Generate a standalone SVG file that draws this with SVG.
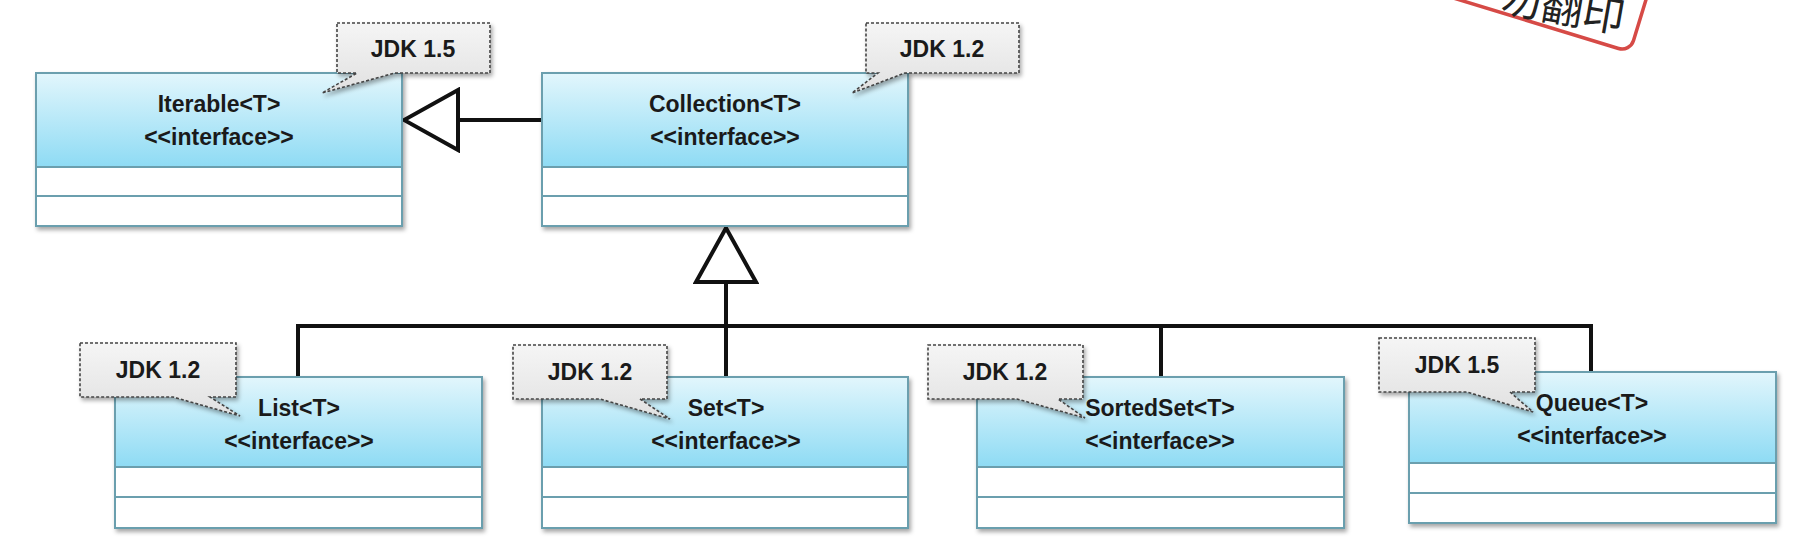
<svg xmlns="http://www.w3.org/2000/svg" width="1810" height="544" viewBox="0 0 1810 544">
<defs>
<linearGradient id="hdr" x1="0" y1="0" x2="0" y2="1">
<stop offset="0" stop-color="#e2f6fc"/>
<stop offset="1" stop-color="#8edbf4"/>
</linearGradient>
<linearGradient id="note" x1="0" y1="0" x2="0" y2="1">
<stop offset="0" stop-color="#f5f5f5"/>
<stop offset="1" stop-color="#e1e1e1"/>
</linearGradient>
<filter id="sh" x="-5%" y="-5%" width="115%" height="125%">
<feDropShadow dx="2" dy="3" stdDeviation="2" flood-color="#000" flood-opacity="0.35"/>
</filter>
<marker id="tri" markerUnits="userSpaceOnUse" viewBox="0 0 60 66" refX="57" refY="33" markerWidth="60" markerHeight="66" orient="auto">
<path d="M3,3 L57,33 L3,63 Z" fill="#fff" stroke="#111" stroke-width="4"/>
</marker>
</defs>
<style>
.box{fill:#fff;stroke:#6b9fae;stroke-width:2}
.hd{fill:url(#hdr);stroke:#6b9fae;stroke-width:2}
.dv{stroke:#6b9fae;stroke-width:2}
.t{font-family:"Liberation Sans",Arial,sans-serif;font-weight:700;font-size:23px;fill:#1a1a1a;text-anchor:middle}
.note{fill:url(#note);stroke:#444;stroke-width:1.6;stroke-dasharray:3 2;filter:url(#sh)}
.ln{fill:none;stroke:#111;stroke-width:4}
</style>
<rect width="1810" height="544" fill="#fff"/>

<g id="stamp">
<g transform="translate(1630,52) rotate(17)">
<rect x="-340" y="-170" width="340" height="170" rx="12" fill="#fff" stroke="#d64a46" stroke-width="3.5"/>
</g>
<text transform="translate(1622,33) rotate(10)" text-anchor="end" font-family="Noto Sans CJK SC, sans-serif" font-size="42" fill="#222">勿翻印</text>
</g>

<g id="connectors">
<path class="ln" d="M542,120 H404" marker-end="url(#tri)"/>
<path class="ln" d="M726,377 V228" marker-end="url(#tri)"/>
<path class="ln" d="M298,377 V326 H1591 V372"/>
<path class="ln" d="M1161,326 V377"/>
</g>

<g id="iterable">
<rect class="box" x="36" y="73" width="366" height="153" filter="url(#sh)"/>
<rect class="hd" x="36" y="73" width="366" height="94"/>
<line class="dv" x1="36" y1="196" x2="402" y2="196"/>
<text class="t" x="219" y="112">Iterable&lt;T&gt;</text>
<text class="t" x="219" y="145">&lt;&lt;interface&gt;&gt;</text>
</g>

<g id="collection">
<rect class="box" x="542" y="73" width="366" height="153" filter="url(#sh)"/>
<rect class="hd" x="542" y="73" width="366" height="94"/>
<line class="dv" x1="542" y1="196" x2="908" y2="196"/>
<text class="t" x="725" y="112">Collection&lt;T&gt;</text>
<text class="t" x="725" y="145">&lt;&lt;interface&gt;&gt;</text>
</g>

<g id="list">
<rect class="box" x="115" y="377" width="367" height="151" filter="url(#sh)"/>
<rect class="hd" x="115" y="377" width="367" height="90"/>
<line class="dv" x1="115" y1="497" x2="482" y2="497"/>
<text class="t" x="299" y="416">List&lt;T&gt;</text>
<text class="t" x="299" y="449">&lt;&lt;interface&gt;&gt;</text>
</g>

<g id="set">
<rect class="box" x="542" y="377" width="366" height="151" filter="url(#sh)"/>
<rect class="hd" x="542" y="377" width="366" height="90"/>
<line class="dv" x1="542" y1="497" x2="908" y2="497"/>
<text class="t" x="726" y="416">Set&lt;T&gt;</text>
<text class="t" x="726" y="449">&lt;&lt;interface&gt;&gt;</text>
</g>

<g id="sortedset">
<rect class="box" x="977" y="377" width="367" height="151" filter="url(#sh)"/>
<rect class="hd" x="977" y="377" width="367" height="90"/>
<line class="dv" x1="977" y1="497" x2="1344" y2="497"/>
<text class="t" x="1160" y="416">SortedSet&lt;T&gt;</text>
<text class="t" x="1160" y="449">&lt;&lt;interface&gt;&gt;</text>
</g>

<g id="queue">
<rect class="box" x="1409" y="372" width="367" height="151" filter="url(#sh)"/>
<rect class="hd" x="1409" y="372" width="367" height="91"/>
<line class="dv" x1="1409" y1="493" x2="1776" y2="493"/>
<text class="t" x="1592" y="411">Queue&lt;T&gt;</text>
<text class="t" x="1592" y="444">&lt;&lt;interface&gt;&gt;</text>
</g>

<g id="note-iterable">
<path class="note" d="M337,23 H490 V73 H395 L322,93 L357,73 H337 Z"/>
<text class="t" x="413" y="57">JDK 1.5</text>
</g>
<g id="note-collection">
<path class="note" d="M866,23 H1019 V73 H905 L852,93 L878,73 H866 Z"/>
<text class="t" x="942" y="57">JDK 1.2</text>
</g>
<g id="note-list">
<path class="note" d="M80,343 H236 V397 H210 L240,416 L173,397 H80 Z"/>
<text class="t" x="158" y="378">JDK 1.2</text>
</g>
<g id="note-set">
<path class="note" d="M513,345 H667 V399 H640 L670,419 L600,399 H513 Z"/>
<text class="t" x="590" y="380">JDK 1.2</text>
</g>
<g id="note-sortedset">
<path class="note" d="M928,345 H1083 V399 H1058 L1085,418 L1017,399 H928 Z"/>
<text class="t" x="1005" y="380">JDK 1.2</text>
</g>
<g id="note-queue">
<path class="note" d="M1379,338 H1535 V392 H1510 L1533,412 L1467,392 H1379 Z"/>
<text class="t" x="1457" y="373">JDK 1.5</text>
</g>
</svg>
